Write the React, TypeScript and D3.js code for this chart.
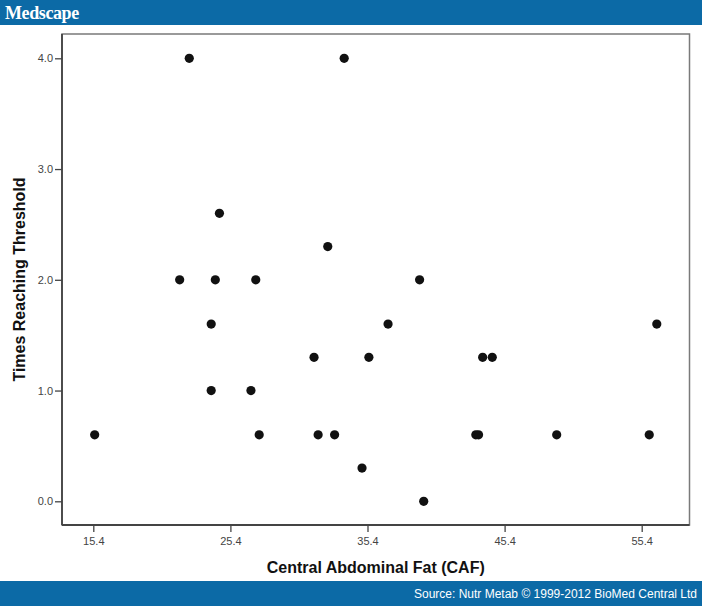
import React, { useEffect, useRef } from 'react';
import * as d3 from 'd3';

// Central Abdominal Fat (CAF) values
const cafValues = [
  15.5, 21.7, 22.4, 24.0, 24.0, 24.3, 24.6, 26.9, 27.25, 27.5,
  31.5, 31.8, 32.5, 33.0, 33.7, 35.0, 35.5, 36.9, 39.2, 39.5,
  43.3, 43.5, 43.8, 44.5, 49.2, 55.95, 56.5,
];

// Times reaching threshold
const thresholdValues = [
  0.6, 2.0, 4.0, 1.6, 1.0, 2.0, 2.6, 1.0, 2.0, 0.6,
  1.3, 0.6, 2.3, 0.6, 4.0, 0.3, 1.3, 1.6, 2.0, 0.0,
  0.6, 0.6, 1.3, 1.3, 0.6, 0.6, 1.6,
];

const xTicks = [15.4, 25.4, 35.4, 45.4, 55.4];
const yTicks = [0, 1, 2, 3, 4];

const W = 702;
const H = 606;

export default function App() {
  const svgRef = useRef<SVGSVGElement>(null);

  useEffect(() => {
    if (!svgRef.current) return;
    const svg = d3.select(svgRef.current);
    svg.selectAll('*').remove();

    const plot = { left: 62, right: 689.5, top: 34, bottom: 525 };

    const x = d3.scaleLinear()
      .domain([15.4, 55.4])
      .range([93.3, 641.7]);
    const y = d3.scaleLinear()
      .domain([0, 4])
      .range([501.3, 58.3]);

    // header bar
    svg.append('rect')
      .attr('x', 0).attr('y', 0)
      .attr('width', W).attr('height', 25)
      .attr('fill', '#0c6aa6');
    svg.append('text')
      .attr('x', 5).attr('y', 19)
      .style('font-family', '"Liberation Serif", "DejaVu Serif", serif')
      .style('font-size', '18px')
      .style('font-weight', 'bold')
      .style('letter-spacing', '-0.4px')
      .style('fill', '#ffffff')
      .text('Medscape');

    // footer bar
    svg.append('rect')
      .attr('x', 0).attr('y', 581)
      .attr('width', W).attr('height', H - 581)
      .attr('fill', '#0c6aa6');
    svg.append('text')
      .attr('x', 697).attr('y', 598)
      .attr('text-anchor', 'end')
      .style('font-family', '"Liberation Sans", Arial, sans-serif')
      .style('font-size', '12px')
      .style('fill', '#ffffff')
      .text('Source: Nutr Metab © 1999-2012 BioMed Central Ltd');

    // frame
    svg.append('rect')
      .attr('x', plot.left).attr('y', plot.top)
      .attr('width', plot.right - plot.left)
      .attr('height', plot.bottom - plot.top)
      .attr('fill', '#ffffff')
      .attr('stroke', '#7a7a7a')
      .attr('stroke-width', 1.5);

    // x axis
    const xAxis = svg.append('g')
      .attr('transform', `translate(0,${plot.bottom})`)
      .call(d3.axisBottom(x).tickValues(xTicks).tickFormat(d3.format('.1f')).tickSize(7).tickPadding(5));
    xAxis.select('.domain')
      .attr('d', `M${plot.left},0H${plot.right}`)
      .attr('stroke', '#444')
      .attr('stroke-width', 1.8);
    xAxis.selectAll('.tick line').attr('stroke', '#444').attr('stroke-width', 1.3);
    xAxis.selectAll('.tick text')
      .style('font-family', '"Liberation Sans", Arial, sans-serif')
      .style('font-size', '11px')
      .style('fill', '#444');

    // y axis
    const yAxis = svg.append('g')
      .attr('transform', `translate(${plot.left},0)`)
      .call(d3.axisLeft(y).tickValues(yTicks).tickFormat(d3.format('.1f')).tickSize(7).tickPadding(2));
    yAxis.select('.domain')
      .attr('d', `M0,${plot.top}V${plot.bottom}`)
      .attr('stroke', '#444')
      .attr('stroke-width', 1.8);
    yAxis.selectAll('.tick line').attr('stroke', '#444').attr('stroke-width', 1.3);
    yAxis.selectAll('.tick text')
      .style('font-family', '"Liberation Sans", Arial, sans-serif')
      .style('font-size', '11px')
      .style('fill', '#444');

    // axis titles
    svg.append('text')
      .attr('x', (plot.left + plot.right) / 2)
      .attr('y', 573)
      .attr('text-anchor', 'middle')
      .style('font-family', '"Liberation Sans", Arial, sans-serif')
      .style('font-size', '16px')
      .style('font-weight', 'bold')
      .style('fill', '#111')
      .text('Central Abdominal Fat (CAF)');

    svg.append('text')
      .attr('transform', `translate(25,${(plot.top + plot.bottom) / 2}) rotate(-90)`)
      .attr('text-anchor', 'middle')
      .style('font-family', '"Liberation Sans", Arial, sans-serif')
      .style('font-size', '16px')
      .style('font-weight', 'bold')
      .style('fill', '#111')
      .text('Times Reaching Threshold');

    // points
    const points = cafValues.map((v, i) => ({ caf: v, times: thresholdValues[i] }));
    svg.append('g')
      .selectAll('circle')
      .data(points)
      .enter()
      .append('circle')
      .attr('cx', d => x(d.caf))
      .attr('cy', d => y(d.times))
      .attr('r', 4.6)
      .attr('fill', '#111');
  }, []);

  return (
    <svg
      ref={svgRef}
      width={W}
      height={H}
      style={{ position: 'absolute', left: 0, top: 0, background: '#fff' }}
    />
  );
}
